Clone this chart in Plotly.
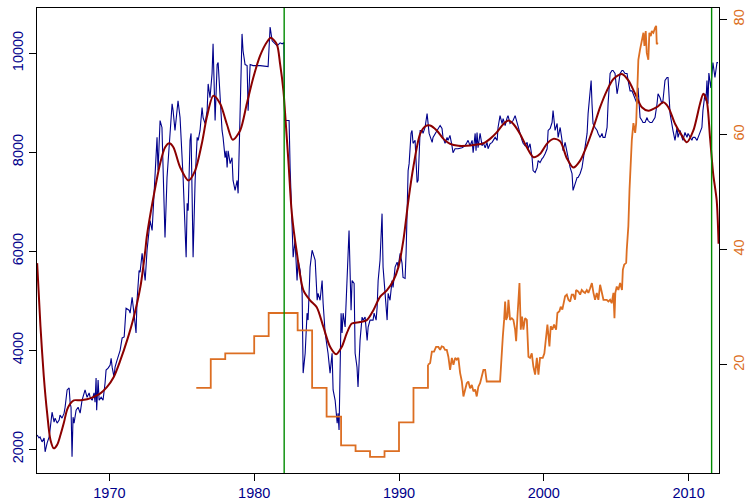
import plotly.graph_objects as go

# Monthly index (left axis)
blue_year = [1965.01, 1965.14, 1965.21, 1965.35, 1965.49, 1965.56, 1965.70, 1965.84, 1965.90, 1966.04,
             1966.18, 1966.25, 1966.39, 1966.53, 1966.59, 1966.73, 1966.87, 1966.94, 1967.08, 1967.22,
             1967.29, 1967.35, 1967.42, 1967.49, 1967.56, 1967.70, 1967.84, 1967.98, 1968.11, 1968.25,
             1968.32, 1968.46, 1968.60, 1968.67, 1968.81, 1968.94, 1969.01, 1969.08, 1969.12, 1969.22,
             1969.29, 1969.43, 1969.56, 1969.70, 1969.77, 1969.91, 1970.05, 1970.12, 1970.19, 1970.32,
             1970.39, 1970.53, 1970.74, 1970.88, 1971.02, 1971.15, 1971.36, 1971.43, 1971.57, 1971.71,
             1971.84, 1971.91, 1972.05, 1972.12, 1972.26, 1972.33, 1972.47,
             1972.60, 1972.81, 1972.95, 1973.16, 1973.29, 1973.36, 1973.50, 1973.63, 1973.71, 1973.84,
             1973.98, 1974.19, 1974.33, 1974.40, 1974.53, 1974.74, 1974.88, 1975.09, 1975.22, 1975.30,
             1975.37, 1975.44, 1975.57, 1975.64, 1975.71, 1975.78, 1975.92, 1976.06, 1976.13, 1976.26,
             1976.40, 1976.47, 1976.61, 1976.75, 1976.82, 1976.95, 1977.09, 1977.16, 1977.30, 1977.44,
             1977.51, 1977.64, 1977.78, 1977.85, 1977.99, 1978.06, 1978.13, 1978.20, 1978.34, 1978.47,
             1978.54, 1978.68, 1978.82, 1978.89, 1979.03, 1979.16, 1979.23, 1979.37, 1979.51, 1979.58,
             1979.72, 1979.92, 1980.41, 1980.96, 1981.10, 1981.24, 1981.58, 1981.79, 1981.93, 1982.05,
             1982.10, 1982.41,
             1982.48, 1982.62, 1982.69, 1982.82, 1982.96, 1983.03, 1983.17, 1983.31, 1983.38, 1983.52,
             1983.65, 1983.72, 1983.86, 1984.00, 1984.07, 1984.21, 1984.35, 1984.41, 1984.55, 1984.69,
             1984.76, 1984.90, 1985.04, 1985.10, 1985.24, 1985.38, 1985.45, 1985.59, 1985.73, 1985.79,
             1985.86, 1986.00, 1986.07, 1986.14, 1986.28, 1986.41, 1986.48, 1986.55, 1986.69, 1986.76,
             1986.90, 1986.97, 1987.10, 1987.17, 1987.31, 1987.45, 1987.52, 1987.66, 1987.80, 1987.87,
             1988.00, 1988.21, 1988.28, 1988.42, 1988.49, 1988.56, 1988.69, 1988.83, 1988.90, 1989.04,
             1989.18, 1989.25, 1989.38, 1989.52, 1989.59, 1989.73, 1989.87, 1989.94, 1990.08, 1990.21,
             1990.28, 1990.42, 1990.49, 1990.63, 1990.70, 1990.83, 1990.90, 1990.97, 1991.11, 1991.25,
             1991.32, 1991.46,
             1991.60, 1991.66, 1991.80, 1991.94, 1992.08, 1992.29, 1992.35, 1992.63, 1992.84, 1992.97,
             1993.04, 1993.18, 1993.32, 1993.39, 1993.52, 1993.66, 1993.73, 1993.87, 1994.08, 1994.35,
             1994.56, 1994.70, 1994.77, 1994.91, 1995.05, 1995.12, 1995.26, 1995.32, 1995.39, 1995.46,
             1995.60, 1995.74, 1995.81, 1995.95, 1996.08, 1996.15, 1996.29, 1996.43, 1996.50, 1996.64,
             1996.78, 1996.84, 1996.98, 1997.12, 1997.19, 1997.33, 1997.47, 1997.53, 1997.67, 1997.88,
             1998.02, 1998.16, 1998.23, 1998.36, 1998.50, 1998.57, 1998.71, 1998.85, 1998.92, 1999.05,
             1999.19, 1999.26, 1999.40, 1999.54, 1999.61, 1999.74, 1999.88, 1999.95, 2000.09, 2000.23,
             2000.30, 2000.44, 2000.57, 2000.64, 2000.78, 2000.92, 2000.99, 2001.13, 2001.26, 2001.33,
             2001.47, 2001.61, 2001.68, 2001.82, 2001.95, 2002.02, 2002.16, 2002.30, 2002.37, 2002.51,
             2002.64, 2002.71, 2002.85, 2002.99, 2003.06, 2003.20, 2003.27, 2003.33, 2003.40, 2003.54,
             2003.68, 2003.75, 2003.89, 2004.02, 2004.09, 2004.23, 2004.37, 2004.44, 2004.58, 2004.71,
             2004.78, 2004.92, 2005.06, 2005.13, 2005.27, 2005.40, 2005.47, 2005.61, 2005.75, 2005.82,
             2005.96, 2006.09, 2006.16, 2006.30, 2006.44, 2006.51, 2006.65, 2006.78, 2006.85, 2006.99,
             2007.13, 2007.20, 2007.34, 2007.47, 2007.54, 2007.68, 2007.82, 2007.89, 2008.03, 2008.16,
             2008.23, 2008.37, 2008.51, 2008.58, 2008.72, 2008.85, 2008.92, 2009.06, 2009.20, 2009.27,
             2009.41, 2009.54, 2009.61, 2009.75, 2009.89, 2009.96, 2010.10, 2010.23, 2010.30, 2010.44,
             2010.58, 2010.65, 2010.79, 2010.92, 2010.99, 2011.13, 2011.20, 2011.27, 2011.34, 2011.40,
             2011.54, 2011.68, 2011.82, 2011.96, 2012.03]
blue_value = [2290, 2230, 2250, 2150, 2230, 1950, 2130, 2250, 2390, 2750,
              2550, 2630, 2530, 2590, 2690, 2630, 2730, 2850, 3200, 3240,
              2930, 2850, 1850, 2650, 2530, 2790, 2850, 2730, 2990, 3140,
              3200, 3050, 3140, 3050, 2990, 3140, 2950, 3440, 2790, 3400,
              2990, 3050, 2990, 3340, 3600, 3640, 3700, 3840, 3660, 3460,
              3660, 3800, 4000, 4250, 4270, 4850, 4810, 4750, 5070, 4710,
              4350, 5010, 5610, 5580, 5960, 5760, 5410,
              6020, 6620, 6420, 7490, 8300, 7630, 8640, 8500, 7770, 6280,
              7490, 8440, 8980, 8840, 8440, 9040, 8700, 7490, 6420, 5880,
              6970, 6820, 8240, 8380, 7170, 5880, 7430, 8300, 8240, 8440,
              8900, 8700, 8580, 8840, 9380, 9100, 9590, 10190, 8640, 9770,
              9810, 9100, 8440, 8300, 7890, 8030, 7690, 8030, 7770, 7890,
              7430, 7230, 7430, 7170, 8840, 10390, 10050, 9770, 9750, 8840,
              9770, 9750, 9750, 9730, 10530, 10250, 10150, 10210, 10190, 10210,
              8640, 8640,
              7690, 6680, 5880, 6220, 5410, 5820, 5620, 5150, 3540, 3940,
              4750, 4610, 5680, 6020, 5960, 5820, 5010, 5150, 5010, 5410,
              4950, 4350, 4060, 3940, 3540, 3940, 3200, 2990, 2530, 2730,
              2390, 4750, 4350, 4750, 4470, 5270, 5820, 6420, 4810, 5410,
              5350, 3940, 3660, 3260, 4200, 4670, 4610, 4670, 4200, 4470,
              4610, 4610, 4750, 4610, 4870, 5410, 5820, 6760, 5680, 5150,
              4610, 5150, 5010, 5410, 5270, 5680, 5780, 5680, 5960, 5760,
              5470, 5450, 5960, 7630, 7770, 8380, 8440, 8180, 8240, 7390,
              7430, 8440,
              8440, 8380, 8500, 8780, 8380, 8200, 8300, 8440, 8540, 8480,
              8300, 8180, 8300, 8240, 8340, 8130, 7990, 8070, 8070, 8090,
              8130, 8200, 8240, 8130, 8240, 7990, 8380, 8030, 8400, 8090,
              8380, 8130, 8200, 8090, 8200, 8070, 8170, 8200, 8240, 8300,
              8240, 8500, 8740, 8580, 8680, 8540, 8700, 8740, 8580, 8640,
              8740, 8580, 8480, 8380, 8240, 8180, 8130, 8200, 8070, 8170,
              7890, 7630, 7590, 7690, 7830, 7790, 7870, 7890, 7970, 8070,
              8440, 8480, 8600, 8840, 8440, 8580, 8300, 8500, 8240, 8030,
              8200, 8030, 7890, 7690, 7570, 7230, 7370, 7490, 7490, 7570,
              7690, 7830, 8030, 8380, 8780, 9300, 9450, 8980, 8580, 8500,
              8440, 8380, 8300, 8380, 8300, 8300, 8500, 8980, 9590, 9650,
              9650, 9590, 9180, 9300, 9590, 9650, 9650, 9590, 9590, 9450,
              9240, 9240, 9180, 9100, 8980, 9300, 8700, 8640, 8600, 8600,
              8700, 8640, 8600, 8600, 8640, 8700, 8980, 9180, 9100, 8980,
              9040, 9450, 9510, 9510, 8780, 8500, 8440, 8240, 8500, 8300,
              8440, 8300, 8240, 8400, 8300, 8380, 8300, 8240, 8300, 8300,
              8240, 8300, 8400, 8500, 8840, 9180, 9040, 9450, 8980, 9600,
              9300, 9810, 9510, 9810, 9810]

# Smoothed trend (left axis)
trend_year = [1965.01, 1965.24, 1965.47, 1965.70, 1965.93, 1966.16, 1966.39, 1966.62, 1966.85, 1967.08,
              1967.31, 1967.54, 1968.00, 1968.46, 1968.92, 1969.38, 1969.84, 1970.30, 1970.76, 1971.22,
              1971.68, 1972.14, 1972.48, 1972.58, 1973.04, 1973.50, 1973.85, 1974.14, 1974.42, 1974.88,
              1975.46, 1975.92, 1976.38, 1976.73, 1977.18, 1977.65, 1978.11, 1978.52, 1979.03, 1979.49,
              1979.94, 1980.41, 1980.87, 1981.15, 1981.56, 1981.79, 1982.02, 1982.13, 1982.36, 1982.60,
              1982.94, 1983.40, 1983.86, 1984.32, 1984.78, 1985.24, 1985.66, 1986.05, 1986.39, 1986.74,
              1987.31, 1987.78, 1988.23, 1988.69, 1989.16, 1989.61, 1989.96, 1990.30, 1990.65, 1990.99,
              1991.46, 1991.80, 1992.15, 1992.61, 1993.07, 1993.53, 1994.10, 1994.68, 1995.26, 1995.83,
              1996.29, 1996.75, 1997.21, 1997.56, 1997.90, 1998.36, 1998.83, 1999.29, 1999.75, 2000.21,
              2000.66, 2001.13, 2001.59, 2002.04, 2002.51, 2002.97, 2003.43, 2003.89, 2004.35, 2004.81,
              2005.39, 2005.84, 2006.31, 2006.77, 2007.22, 2007.80, 2008.26, 2008.60, 2009.07, 2009.53,
              2009.88, 2010.33, 2010.79, 2011.02, 2011.25, 2011.48, 2011.70, 2011.94, 2012.07]
trend_value = [5760, 4480, 3470, 2730, 2190, 2020, 2090, 2290, 2530, 2800,
               2930, 2990, 2990, 3010, 3060, 3130, 3260, 3460, 3800, 4200,
               4670, 5280, 6020, 6290, 7090, 7770, 8100, 8180, 8100, 7700,
               7430, 7630, 8170, 8710, 9140, 8980, 8570, 8250, 8440, 8980,
               9510, 9950, 10220, 10310, 10180, 9780, 9240, 8800, 7830, 6760,
               5980, 5210, 5010, 4870, 4470, 4070, 3920, 4070, 4340, 4540,
               4570, 4610, 4810, 5080, 5210, 5410, 5680, 6220, 7030, 7700,
               8370, 8520, 8540, 8440, 8270, 8170, 8130, 8130, 8150, 8180,
               8270, 8400, 8570, 8640, 8570, 8370, 8100, 7900, 7970, 8170,
               8270, 8220, 7880, 7690, 7830, 8130, 8500, 8910, 9240, 9480,
               9580, 9450, 9180, 8910, 8840, 8910, 9010, 8910, 8570, 8340,
               8200, 8440, 8980, 9180, 9040, 8300, 7560, 7030, 6150]

# Annual rate (right axis), 1976-1991, then monthly
rate_year_annual = [1976, 1977, 1978, 1979, 1980, 1981, 1982, 1983, 1984, 1985,
                    1986, 1987, 1988, 1989, 1990, 1991, 1992]
rate_annual = [16, 21, 22, 22, 25, 29, 29, 26, 16, 11, 6, 5, 4, 5, 10, 16, 20]

rate_year_monthly = [1992.00, 1992.15, 1992.27, 1992.42, 1992.56, 1992.72, 1992.84, 1992.95, 1993.07, 1993.18,
                     1993.30, 1993.41, 1993.53, 1993.65, 1993.76, 1993.88, 1993.99, 1994.10, 1994.22, 1994.34,
                     1994.45, 1994.57, 1994.68, 1994.79, 1994.91, 1995.03, 1995.14, 1995.26, 1995.37, 1995.48,
                     1995.60, 1995.72, 1995.83, 1995.95, 1996.06, 1996.98, 1997.05, 1997.17, 1997.26, 1997.33,
                     1997.40, 1997.49, 1997.56, 1997.67, 1997.79, 1997.90, 1998.02, 1998.09, 1998.18, 1998.25,
                     1998.32, 1998.41, 1998.50, 1998.59, 1998.71, 1998.83, 1998.94, 1999.05, 1999.17, 1999.28,
                     1999.40, 1999.52, 1999.63, 1999.74, 1999.93, 2000.04, 2000.16, 2000.25, 2000.39, 2000.48,
                     2000.59, 2000.71, 2000.85, 2000.94, 2001.08, 2001.17, 2001.28, 2001.35, 2001.47, 2001.59,
                     2001.70, 2001.82, 2001.93, 2002.04, 2002.16, 2002.23, 2002.39, 2002.51, 2002.62, 2002.73,
                     2002.85, 2002.97, 2003.08, 2003.20, 2003.32, 2003.43, 2003.54, 2003.66, 2003.77, 2003.89,
                     2004.00, 2004.12, 2004.35, 2004.46, 2004.58, 2004.69, 2004.81, 2004.88, 2004.94, 2005.04,
                     2005.15, 2005.27, 2005.40, 2005.46, 2005.55, 2005.69, 2005.73, 2005.80, 2005.84, 2005.92,
                     2006.08, 2006.19, 2006.31, 2006.38, 2006.46, 2006.53, 2006.65, 2006.77, 2006.88, 2006.95,
                     2007.04, 2007.11, 2007.22, 2007.29, 2007.39, 2007.46, 2007.57, 2007.69, 2007.76, 2007.80,
                     2007.87]
rate_monthly = [20.0, 20.3, 22.3, 22.3, 23.1, 23.1, 22.6, 23.2, 23.1, 22.6,
                22.6, 21.4, 19.1, 21.2, 20.0, 21.2, 20.9, 21.2, 18.6, 17.1,
                14.5, 15.9, 16.8, 17.1, 15.9, 16.5, 15.4, 15.7, 14.5, 16.2,
                16.8, 18.0, 19.1, 19.1, 17.1, 17.1, 20.9, 24.9, 27.8, 31.0,
                27.8, 28.4, 31.3, 27.8, 28.1, 27.8, 26.1, 24.1, 28.4, 31.3,
                34.2, 26.1, 28.4, 26.1, 28.1, 27.8, 21.4, 21.2, 22.0, 19.7,
                18.3, 21.2, 18.3, 21.2, 21.2, 22.0, 24.3, 27.0, 23.2, 26.7,
                26.1, 27.0, 26.1, 29.0, 29.3, 30.1, 29.6, 30.4, 31.9, 32.2,
                31.3, 31.0, 32.2, 32.2, 31.3, 33.0, 32.7, 32.2, 33.0, 32.7,
                32.5, 33.0, 32.5, 33.3, 34.2, 32.5, 31.3, 32.5, 31.3, 33.9,
                32.5, 31.3, 31.3, 31.0, 31.3, 30.7, 32.5, 28.1, 32.5, 33.6,
                33.0, 34.2, 33.0, 36.5, 37.4, 37.7, 40.0, 42.9, 44.1, 50.4,
                59.1, 62.0, 60.3, 62.0, 69.0, 73.0, 74.8, 76.5, 77.7, 75.4,
                78.0, 74.2, 73.0, 77.7, 77.1, 78.0, 77.7, 78.6, 78.9, 75.7,
                76.0]

# Event markers
event_years = [1982.07, 2011.59]

x_ticks = [1970, 1980, 1990, 2000, 2010]
left_ticks = [2000, 4000, 6000, 8000, 10000]
right_ticks = [20, 40, 60, 80]

BLUE = "#00008B"
DARKRED = "#8B0000"
ORANGE = "#DC6E22"
GREEN = "#008B00"
FONT = "Liberation Sans, Arial, sans-serif"

fig = go.Figure()
fig.add_trace(go.Scatter(x=blue_year, y=blue_value, mode="lines",
                         line=dict(color=BLUE, width=1.1), yaxis="y"))
fig.add_trace(go.Scatter(x=trend_year, y=trend_value, mode="lines",
                         line=dict(color=DARKRED, width=2, shape="spline", smoothing=0.8), yaxis="y"))
fig.add_trace(go.Scatter(x=rate_year_annual, y=rate_annual, mode="lines",
                         line=dict(color=ORANGE, width=1.8, shape="hv"), yaxis="y2"))
fig.add_trace(go.Scatter(x=rate_year_monthly, y=rate_monthly, mode="lines",
                         line=dict(color=ORANGE, width=1.8), yaxis="y2"))

for ev in event_years:
    fig.add_shape(type="line", xref="x", yref="paper", x0=ev, x1=ev, y0=0, y1=1,
                  line=dict(color=GREEN, width=1.4))

fig.update_layout(
    width=746, height=501,
    margin=dict(l=37, r=27, t=8, b=28),
    plot_bgcolor="white", paper_bgcolor="white",
    showlegend=False,
    font=dict(family=FONT, size=14.5),
    xaxis=dict(range=[1965.0, 2012.1], tickvals=x_ticks, ticktext=[str(t) for t in x_ticks],
               ticks="outside", ticklen=7, automargin=False,
               tickcolor="black", showline=True, linecolor="black", linewidth=1, mirror=True,
               showgrid=False, zeroline=False, tickfont=dict(color=BLUE, size=14.5)),
    yaxis=dict(range=[1522, 10913], tickvals=left_ticks, ticktext=[str(t) for t in left_ticks],
               ticks="outside", ticklen=7, automargin=False,
               tickcolor="black", showline=True, linecolor="black", linewidth=1, mirror=True,
               showgrid=False, zeroline=False, tickangle=-90,
               tickfont=dict(color=BLUE, size=14.5)),
    yaxis2=dict(range=[1.2, 82.0], tickvals=right_ticks, ticktext=[str(t) for t in right_ticks],
                ticks="outside", ticklen=7, automargin=False,
                tickcolor="black", overlaying="y", side="right", showline=True,
                linecolor="black", linewidth=1, showgrid=False, zeroline=False, tickangle=-90,
                tickfont=dict(color=ORANGE, size=14.5)),
)

fig.write_html("out.html")
